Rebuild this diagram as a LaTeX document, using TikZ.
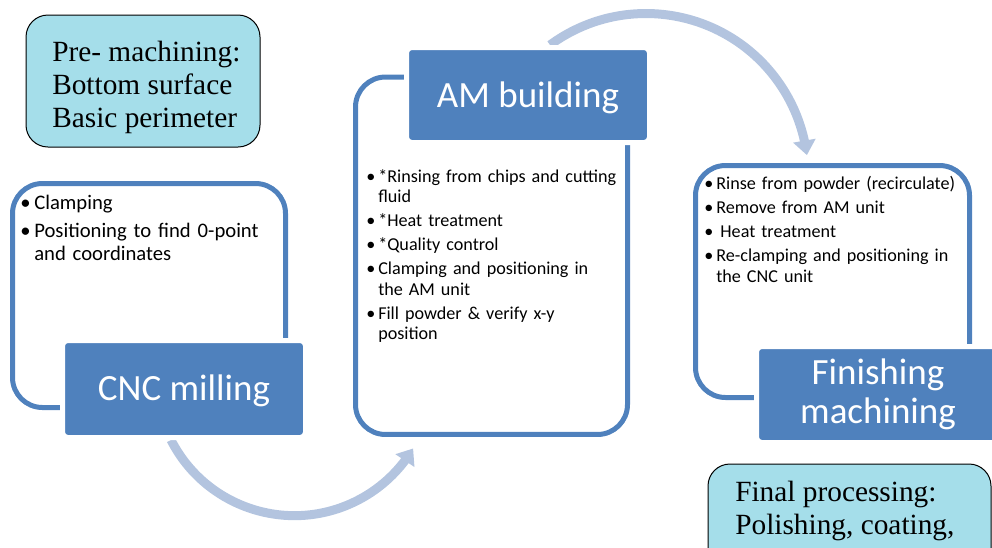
\documentclass[tikz,border=0pt]{standalone}
\usepackage{fontspec}
\setmainfont{Liberation Serif}
\newfontfamily\calibri{Carlito}
\usetikzlibrary{arrows.meta,bending}

\definecolor{stageblue}{RGB}{79,129,189}
\definecolor{notecyan}{RGB}{165,222,234}
\definecolor{cyclegrey}{RGB}{179,196,223}

\newlength{\bulw}
\newcommand{\bitem}[1]{\par\hangindent=\bulw\hangafter=1\noindent\makebox[\bulw][l]{\textbullet}#1}

\tikzset{
  stageframe/.style={draw=stageblue, line width=3.75pt, rounded corners=22.5pt, inner sep=0pt},
  stagelabel/.style={fill=stageblue, draw=white, line width=3.75pt, rounded corners=3.75pt,
    text=white, font=\calibri\fontsize{27.75}{29.5}\selectfont, align=center,
    minimum width=182.25pt, minimum height=72pt, inner sep=0pt},
  stepnotes/.style={anchor=north west, inner sep=0pt, font=\calibri\fontsize{13.6}{15.2}\selectfont},
  notebox/.style={draw=black, line width=0.75pt, fill=notecyan, rounded corners=16.5pt, inner sep=0pt},
  notetext/.style={anchor=north west, inner sep=0pt, align=left, font=\fontsize{22}{24.75}\selectfont},
  cycarrow/.style={draw=cyclegrey, line width=6.75pt, -{Triangle[width=16.5pt,length=11pt]}}
}

\begin{document}
\begin{tikzpicture}[x=0.75pt,y=-0.75pt]
  \useasboundingbox (0,0) rectangle (992,547);
  \clip (0,0) rectangle (992,547);

  % cycle arrows
  \coordinate (millout) at (171,440);
  \coordinate (buildout) at (550,45);
  \draw[cycarrow] (millout) arc[start angle=153, end angle=31, radius=138.5];
  \draw[cycarrow] (buildout) arc[start angle=-126.3, end angle=-7.3, radius=162.2];

  % stage frames
  \node[stageframe, minimum width=204.75pt, minimum height=168pt] (millframe) at (149,295.5) {};
  \node[stageframe, minimum width=204pt, minimum height=268.1pt] (buildframe) at (491.5,255.75) {};
  \node[stageframe, minimum width=205.5pt, minimum height=174pt] (finframe) at (832.5,281.5) {};

  % stage labels
  \node[stagelabel, minimum height=72.75pt] (mill) at (184,389) {\raisebox{-1.5pt}[\height][\depth]{CNC milling}};
  \node[stagelabel, minimum height=71.25pt] (build) at (528,95) {\raisebox{-2pt}[\height][\depth]{AM building}};
  \node[stagelabel] (fin) at (878,394.5) {Finishing\\machining};

  % step lists
  \node[stepnotes, font=\calibri\fontsize{15.5}{17.25}\selectfont, text width=200pt] (milltext) at (20,180.7)
    {\setlength{\bulw}{10.5pt}\setlength{\parskip}{4.1pt}%
     \bitem{\rule{0pt}{13pt}Clamping}
     \bitem{Positioning to find 0-point\newline and coordinates}\par};
  \node[stepnotes, text width=195pt] (buildtext) at (366,158.4)
    {\setlength{\bulw}{9pt}\setlength{\parskip}{2.8pt}%
     \bitem{\rule{0pt}{11.5pt}*Rinsing from chips and cutting\newline fluid}
     \bitem{*Heat treatment}
     \bitem{*Quality control}
     \bitem{Clamping and positioning in\newline the AM unit}
     \bitem{Fill powder \& verify x-y\newline position}\par};
  \node[stepnotes, text width=200pt] (fintext) at (704,165.7)
    {\setlength{\bulw}{9pt}\setlength{\parskip}{2.8pt}%
     \bitem{\rule{0pt}{11.5pt}Rinse from powder (recirculate)}
     \bitem{Remove from AM unit}
     \bitem{\hspace{0.23em}Heat treatment}
     \bitem{Re-clamping and positioning in\newline the CNC unit}\par};

  % side notes
  \node[notebox, minimum width=175.5pt, minimum height=99pt] (prenote) at (143,81) {};
  \node[notetext] (pretext) at (52,39.7)
    {\rule{0pt}{16pt}Pre- machining:\\Bottom surface\\Basic perimeter};
  \node[notebox, minimum width=212.25pt, minimum height=99pt] (finalnote) at (849.5,530) {};
  \node[notetext] (finaltext) at (735,479.7)
    {\rule{0pt}{16pt}Final processing:\\Polishing, coating,};
\end{tikzpicture}
\end{document}
